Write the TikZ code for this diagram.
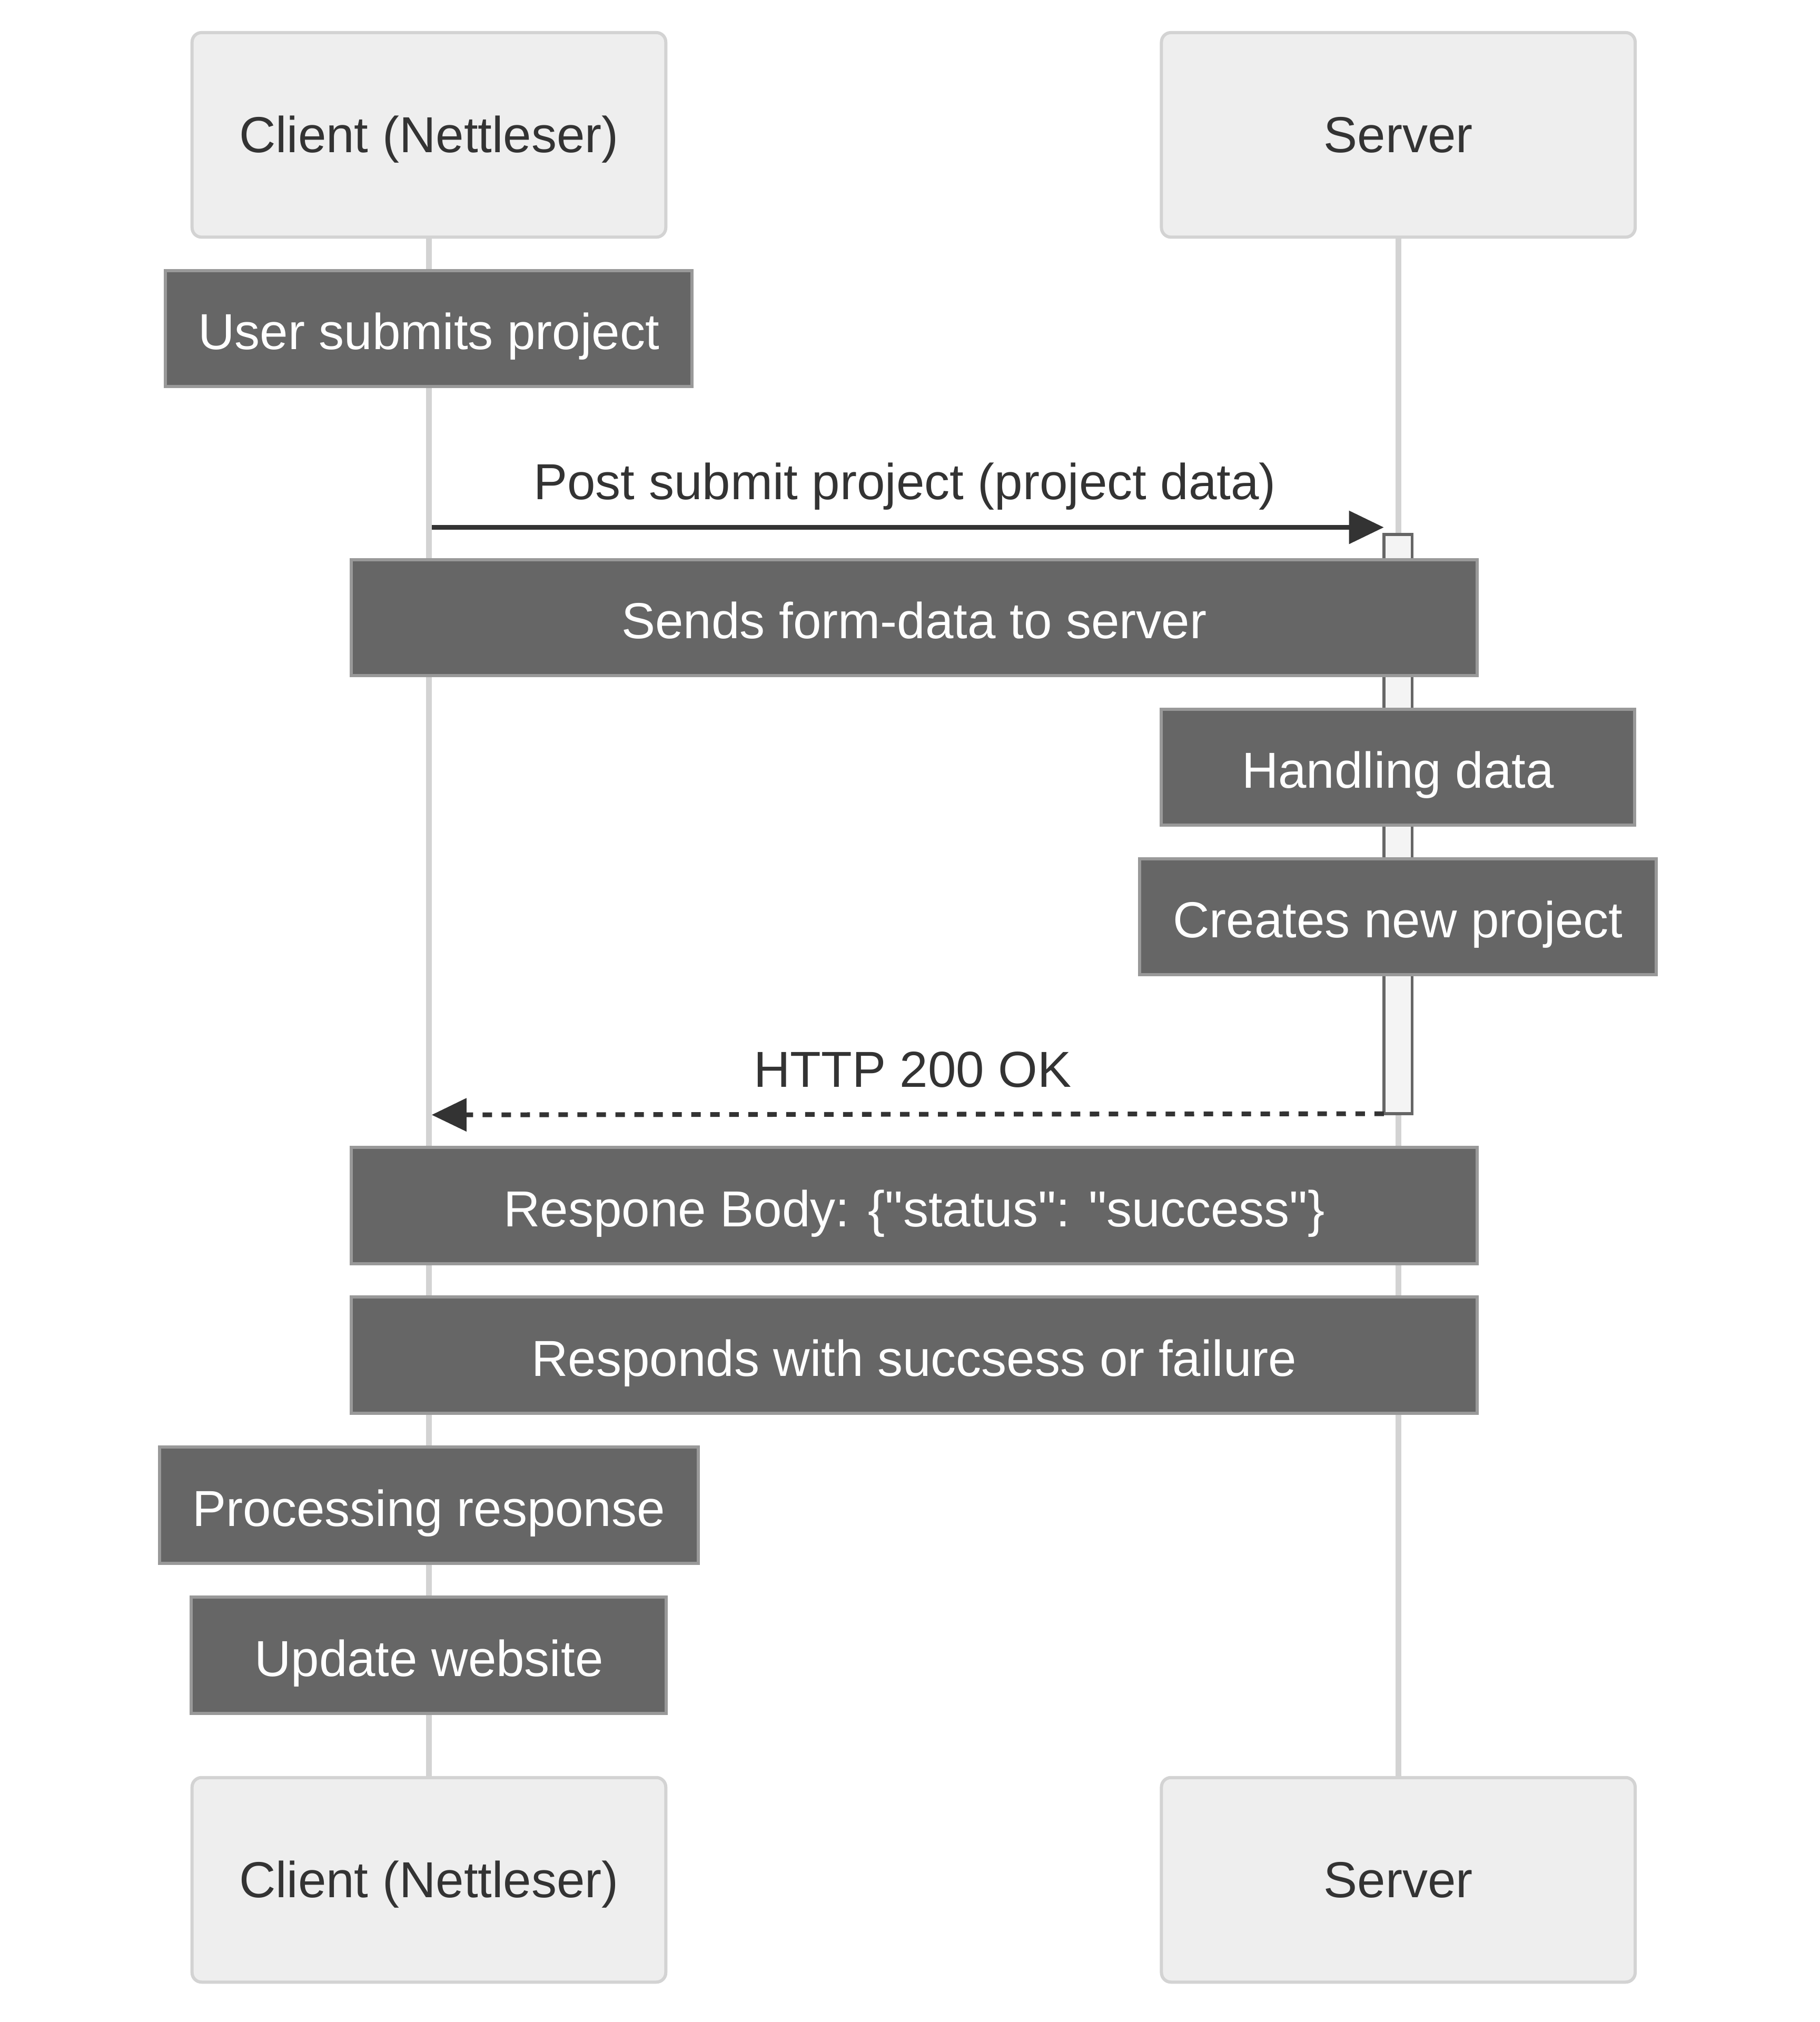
\documentclass[tikz,border=0pt]{standalone}
\usepackage{fontspec}
\setmainfont{Liberation Sans}[Ligatures=TeXOff]
\usetikzlibrary{arrows.meta}
\definecolor{actfill}{HTML}{EEEEEE}
\definecolor{actline}{HTML}{D3D3D3}
\definecolor{notefill}{HTML}{666666}
\definecolor{noteline}{HTML}{999999}
\definecolor{txt}{HTML}{333333}
\definecolor{lifecol}{HTML}{D3D3D3}
\definecolor{actvfill}{HTML}{F4F4F4}
\definecolor{actvline}{HTML}{666666}
\begin{document}
\begin{tikzpicture}[x=1pt,y=-1pt,
  every node/.style={font=\fontsize{39.2}{47}\selectfont, inner sep=0pt, outer sep=0pt},
  actor/.style={draw=actline, fill=actfill, line width=2.45pt, rounded corners=7.35pt,
    minimum width=367pt, minimum height=158.5pt, text=txt, text height=27.4pt, text depth=0pt},
  note/.style={draw=noteline, fill=notefill, line width=2.45pt, minimum height=90pt,
    text=white, text height=32.4pt, text depth=0pt},
  life/.style={draw=lifecol, line width=4.7pt},
  actv/.style={draw=actvline, fill=actvfill, line width=2.2pt, minimum width=21.8pt, minimum height=448.8pt},
  msg/.style={draw=txt, line width=3.7pt, -{Triangle[length=27pt,width=25pt]}},
  ret/.style={msg, dash pattern=on 7.35pt off 7.35pt},
  msglabel/.style={text=txt, anchor=base}
]
\useasboundingbox (0,0) rectangle (1410,1566.67);
\fill[white] (0,0) rectangle (1410,1566.67);

% actors
\node[actor] (ca) at (332.3,104.5) {Client (Nettleser)};
\node[actor] (sa) at (1083.3,104.5) {Server};
\node[actor] (cb) at (332.3,1456.5) {Client (Nettleser)};
\node[actor] (sb) at (1083.3,1456.5) {Server};

% lifelines
\draw[life] (ca.south) -- (cb.north);
\draw[life] (sa.south) -- (sb.north);

% activation
\node[actv] (act) at (1083,638.5) {};

% message 1
\coordinate (m1s) at (334.6,408.6);
\draw[msg] (m1s) -- (m1s -| act.west);
\node[msglabel] (l1) at (701,387) {Post submit project (project data)};

% notes
\node[note, minimum width=407.8pt] (n1) at (332.2,254.5) {User submits project};
\node[note, minimum width=872pt] (n2) at (708.2,478.5) {Sends form-data to server};
\node[note, minimum width=366.9pt] (n3) at (1083,594.5) {Handling data};
\node[note, minimum width=400pt] (n4) at (1083,710.3) {Creates new project};

% return message
\coordinate (m2e) at (334.4,863.8);
\draw[ret] (act.south west) -- (m2e);
\node[msglabel] (l2) at (707,842.2) {HTTP 200 OK};

\node[note, minimum width=872pt] (n5) at (708.2,934) {Respone Body: \{"status": "success"\}};
\node[note, minimum width=872pt] (n6) at (708.2,1050) {Responds with succsess or failure};
\node[note, minimum width=417.5pt] (n7) at (332.3,1166.3) {Processing response};
\node[note, minimum width=368pt] (n8) at (332.3,1282.5) {Update website};
\end{tikzpicture}
\end{document}
